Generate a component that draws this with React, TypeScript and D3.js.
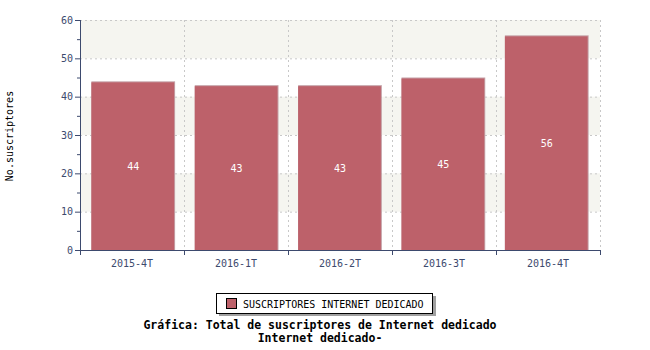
import React from "react";
import * as d3 from "d3";

const categories = ["2015-4T", "2016-1T", "2016-2T", "2016-3T", "2016-4T"];
const values = [44, 43, 43, 45, 56];
const yTicks = [0, 10, 20, 30, 40, 50, 60];
const yMinorTicks = [5, 15, 25, 35, 45, 55];
const seriesName = "SUSCRIPTORES INTERNET DEDICADO";
const yLabel = "No.suscriptores";
const titleLines = ["Gráfica: Total de suscriptores de Internet dedicado", "Internet dedicado-"];

const W = 650, H = 350;
const left = 80, right = 600, top = 20, bottom = 250;
const mono = "'DejaVu Sans Mono', monospace";
const axisColor = "#3d4a6e";
const textColor = "#3d4a6e";
const barColor = "#bd616a";

export default function App() {
  const x = d3.scaleBand<string>().domain(categories).range([left, right]).paddingInner(0.19).paddingOuter(0.11);
  const xb = d3.scaleBand<string>().domain(categories).range([left, right]);
  const y = d3.scaleLinear().domain([0, 60]).range([bottom, top]);
  const bands = [[10, 20], [30, 40], [50, 60]];
  const boundaries = [...categories.map((c) => xb(c)!), right];
  return (
    <svg width={W} height={H} style={{ position: "absolute", left: 0, top: 0 }}>
      <rect x={0} y={0} width={W} height={H} fill="#fff" />
      {bands.map(([a, b], i) => (
        <rect key={i} x={left} y={y(b)} width={right - left} height={y(a) - y(b)} fill="#f5f5f0" />
      ))}
      {yTicks.slice(1).map((t) => (
        <line key={t} x1={left} x2={right} y1={y(t) + 0.5} y2={y(t) + 0.5} stroke="#c8c8c8" strokeDasharray="2,3" />
      ))}
      {boundaries.slice(1).map((b, i) => (
        <line key={i} x1={b + 0.5} x2={b + 0.5} y1={top} y2={bottom} stroke="#c8c8c8" strokeDasharray="2,3" />
      ))}
      {categories.map((c, i) => {
        const bx = x(c)!;
        const bw = x.bandwidth();
        const by = y(values[i]);
        return (
          <g key={c}>
            <rect x={bx} y={by} width={bw} height={bottom - by} fill="#c4a0a6" />
            <rect x={bx} y={by + 1} width={bw - 1} height={bottom - by - 1} fill={barColor} />
            <text x={bx + bw / 2} y={(by + bottom) / 2 + 1} textAnchor="middle" dominantBaseline="central" fill="#fff" fontFamily={mono} fontSize={10}>
              {values[i]}
            </text>
          </g>
        );
      })}
      {/* y axis */}
      <line x1={left + 0.5} x2={left + 0.5} y1={top} y2={bottom + 5} stroke={axisColor} />
      {yTicks.map((t) => (
        <g key={t}>
          <line x1={left - 5} x2={left} y1={y(t) + 0.5} y2={y(t) + 0.5} stroke={axisColor} />
          <text x={left - 7} y={y(t)} textAnchor="end" dominantBaseline="central" fill={textColor} fontFamily={mono} fontSize={10}>
            {t}
          </text>
        </g>
      ))}
      {yMinorTicks.map((t) => (
        <line key={t} x1={left - 3} x2={left} y1={y(t) + 0.5} y2={y(t) + 0.5} stroke={axisColor} />
      ))}
      {/* x axis */}
      <line x1={left} x2={right + 1} y1={bottom + 0.5} y2={bottom + 0.5} stroke={axisColor} />
      {boundaries.map((b, i) => (
        <line key={i} x1={b + 0.5} x2={b + 0.5} y1={bottom} y2={bottom + 5} stroke={axisColor} />
      ))}
      {categories.map((c) => (
        <text key={c} x={xb(c)! + xb.bandwidth() / 2} y={263} textAnchor="middle" dominantBaseline="central" fill={textColor} fontFamily={mono} fontSize={10}>
          {c}
        </text>
      ))}
      <text transform={`translate(9,${(top + bottom) / 2 + 1}) rotate(-90)`} textAnchor="middle" dominantBaseline="central" fill="#000" fontFamily={mono} fontSize={10}>
        {yLabel}
      </text>
      {/* legend */}
      <rect x={219} y={296} width={217} height={20} fill="#a0a0a0" />
      <rect x={216.5} y={293.5} width={216} height={20} fill="#fff" stroke="#000" />
      <rect x={226.5} y={298.5} width={10} height={10} fill={barColor} stroke="#000" />
      <text x={243} y={304} dominantBaseline="central" fill="#000" fontFamily={mono} fontSize={10}>
        {seriesName}
      </text>
      {titleLines.map((t, i) => (
        <text key={i} x={320} y={325 + i * 13} textAnchor="middle" dominantBaseline="central" fill="#000" fontFamily={mono} fontSize={11.5} fontWeight="bold">
          {t}
        </text>
      ))}
    </svg>
  );
}
